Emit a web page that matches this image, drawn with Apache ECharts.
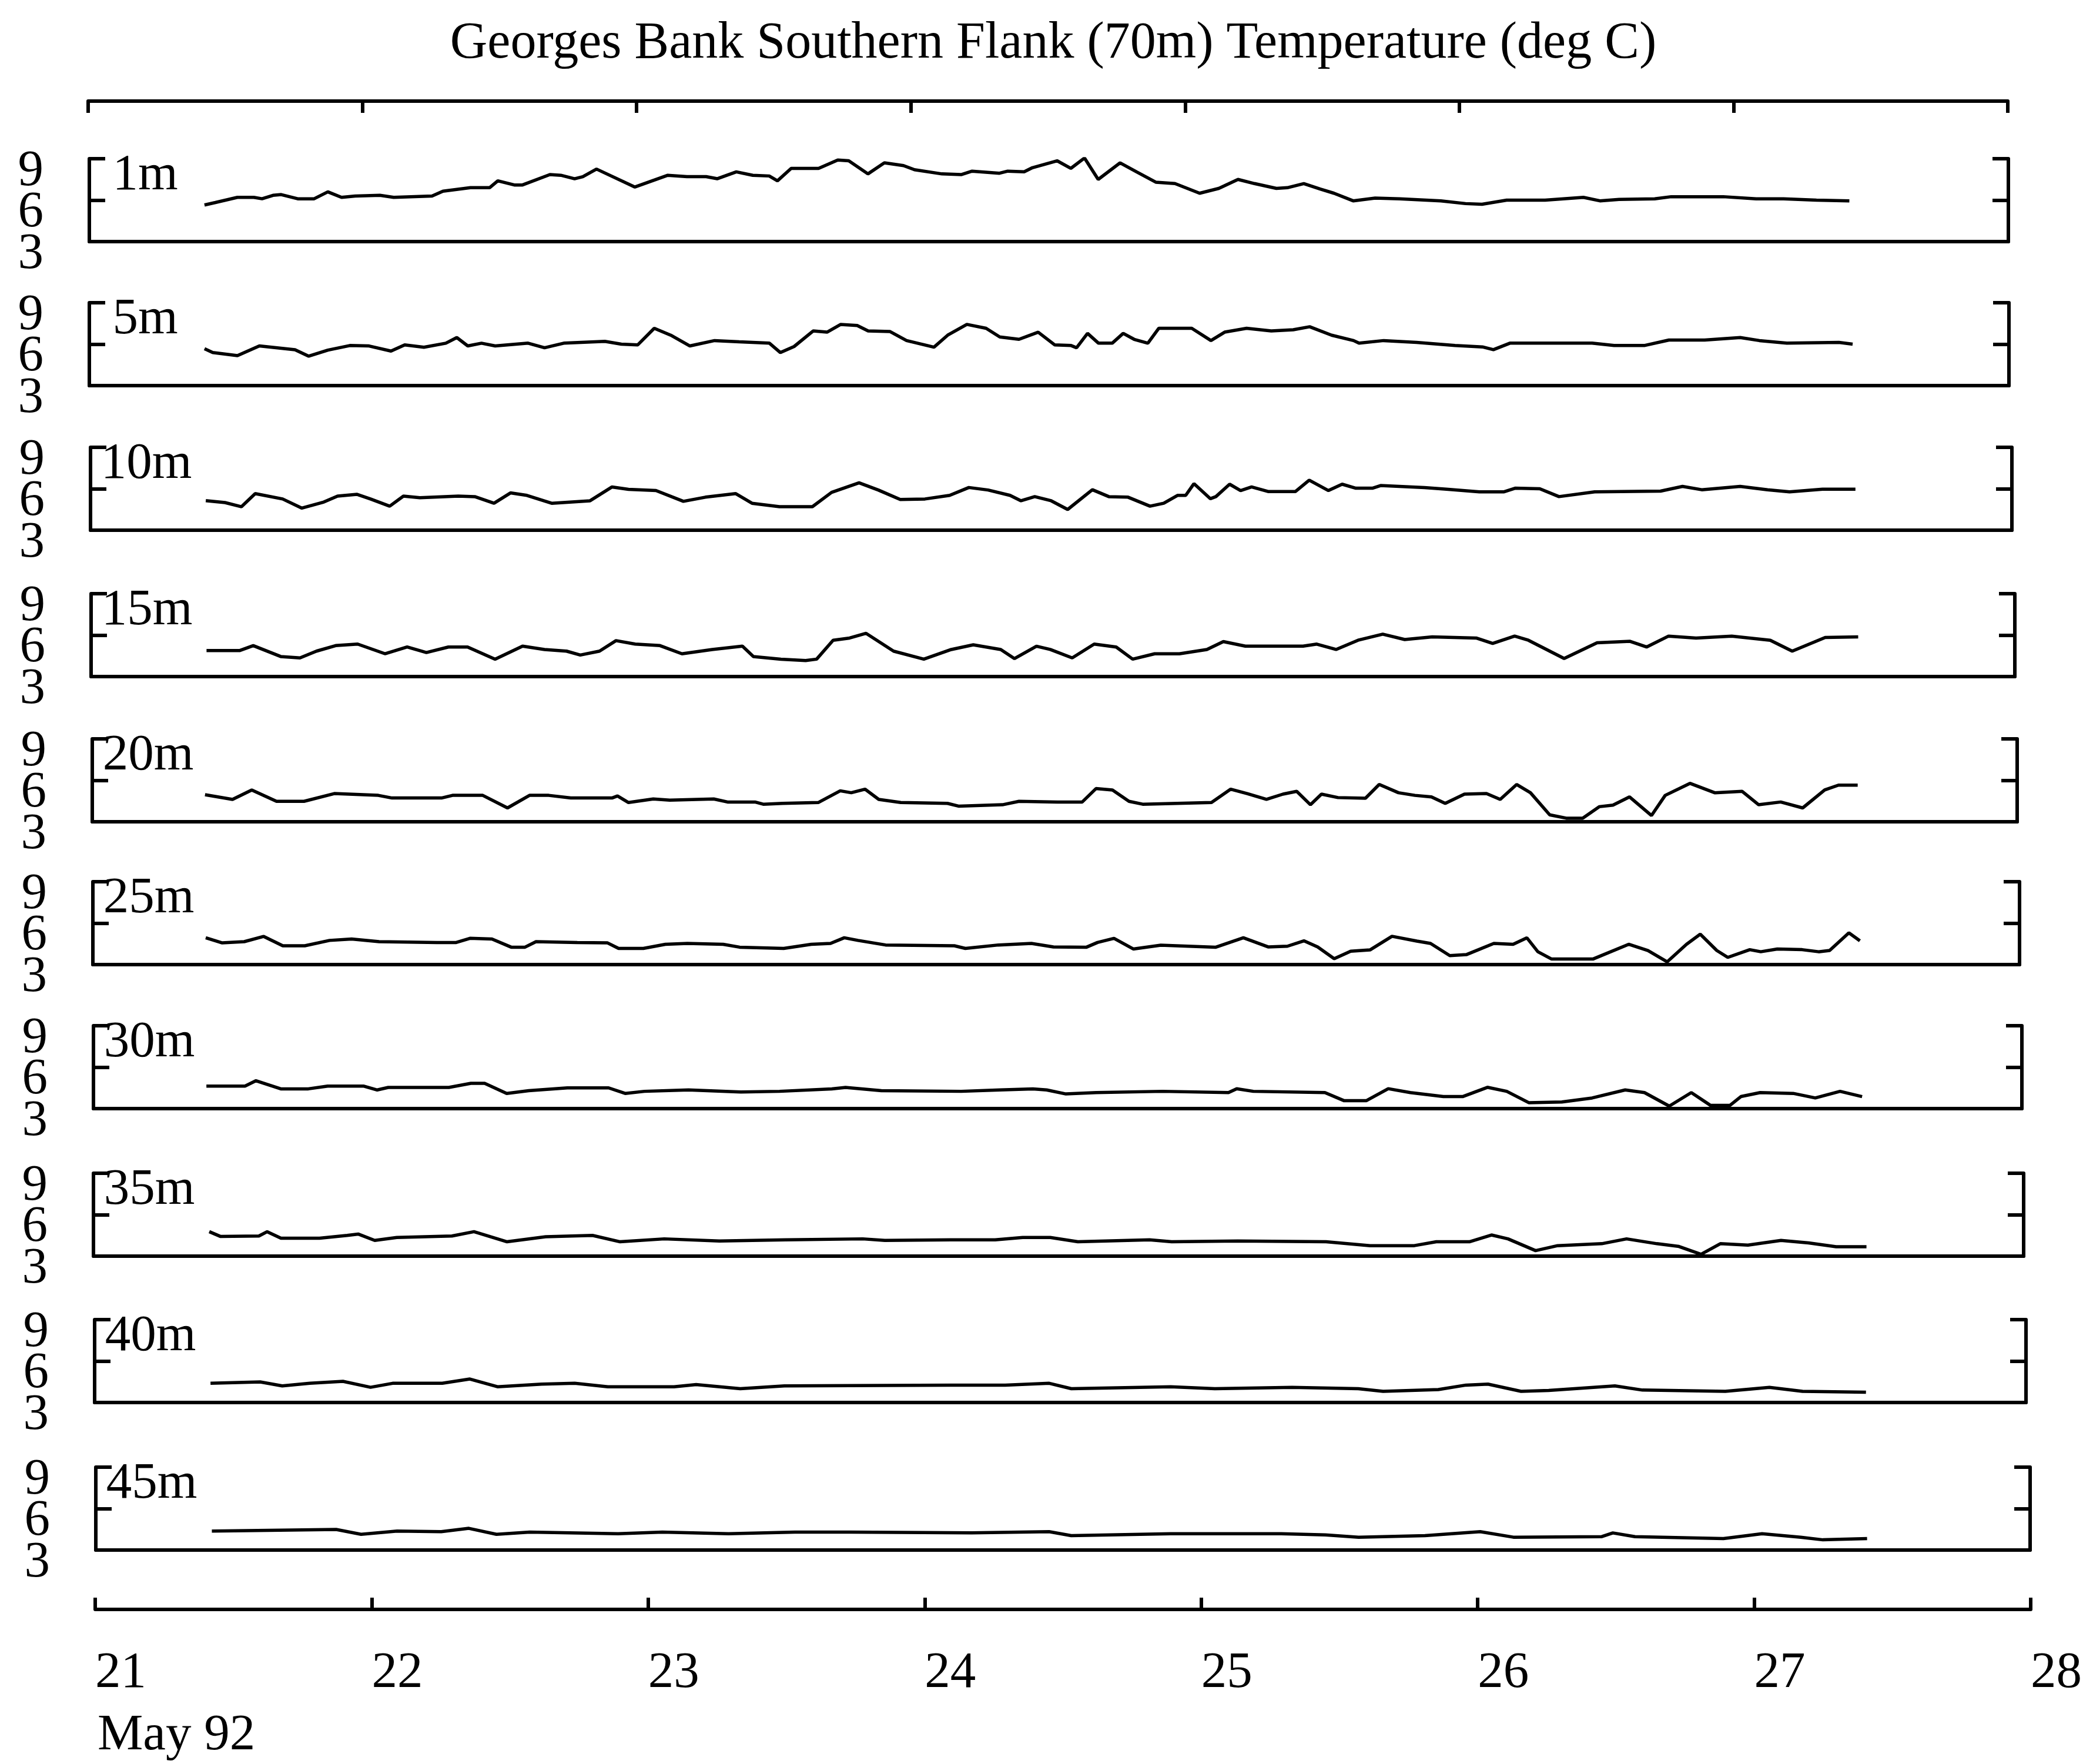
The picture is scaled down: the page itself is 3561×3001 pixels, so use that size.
<!DOCTYPE html>
<html><head><meta charset="utf-8">
<script src="https://cdn.jsdelivr.net/npm/echarts@6/dist/echarts.min.js"></script>
<style>html,body{margin:0;padding:0;background:#fff}#c{width:3561px;height:3001px}</style>
</head><body><div id="c"></div>
<script>
// ---------------- data ----------------
const titleText = 'Georges Bank Southern Flank (70m) Temperature (deg C)';
const depthLabels = ['1m','5m','10m','15m','20m','25m','30m','35m','40m','45m'];
const dayTicks = [21,22,23,24,25,26,27,28];
const tempTicks = [3,6,9];
const monthLabel = 'May 92';

// [day of May 1992, temperature deg C]
const t1m = [[21.42,5.65],[21.46,5.83],[21.54,6.2],[21.60,6.2],[21.63,6.1],[21.67,6.35],[21.70,6.4],[21.76,6.1],[21.82,6.1],[21.87,6.6],[21.92,6.2],[21.97,6.3],[22.06,6.35],[22.11,6.2],[22.25,6.3],[22.29,6.65],[22.39,6.9],[22.46,6.9],[22.49,7.4],[22.55,7.1],[22.58,7.1],[22.68,7.85],[22.72,7.8],[22.77,7.55],[22.80,7.7],[22.85,8.25],[22.99,6.95],[23.11,7.8],[23.18,7.7],[23.25,7.7],[23.29,7.55],[23.36,8.05],[23.42,7.8],[23.48,7.75],[23.51,7.4],[23.56,8.3],[23.66,8.3],[23.73,8.9],[23.77,8.85],[23.84,7.9],[23.90,8.7],[23.97,8.5],[24.01,8.2],[24.11,7.9],[24.18,7.85],[24.22,8.1],[24.32,7.95],[24.35,8.1],[24.41,8.05],[24.44,8.35],[24.53,8.85],[24.58,8.3],[24.63,9.05],[24.68,7.5],[24.76,8.7],[24.82,8.05],[24.89,7.3],[24.96,7.2],[25.05,6.5],[25.12,6.85],[25.19,7.5],[25.25,7.2],[25.33,6.85],[25.37,6.9],[25.43,7.2],[25.49,6.8],[25.54,6.5],[25.61,5.95],[25.69,6.15],[25.78,6.1],[25.93,5.95],[26.02,5.75],[26.08,5.7],[26.17,6.0],[26.31,6.0],[26.45,6.2],[26.51,5.95],[26.58,6.05],[26.71,6.1],[26.77,6.25],[26.96,6.25],[27.08,6.1],[27.18,6.1],[27.30,6.0],[27.42,5.95]];
const t5m = [[21.42,5.67],[21.45,5.39],[21.54,5.17],[21.62,5.87],[21.75,5.6],[21.80,5.13],[21.87,5.57],[21.95,5.9],[22.02,5.87],[22.10,5.5],[22.15,5.95],[22.22,5.78],[22.30,6.07],[22.34,6.48],[22.38,5.87],[22.43,6.07],[22.48,5.87],[22.60,6.07],[22.66,5.74],[22.73,6.07],[22.88,6.2],[22.94,6.0],[23.00,5.95],[23.06,7.15],[23.12,6.65],[23.19,5.87],[23.28,6.26],[23.37,6.17],[23.48,6.07],[23.52,5.39],[23.57,5.83],[23.64,6.96],[23.69,6.87],[23.74,7.43],[23.80,7.35],[23.84,6.96],[23.92,6.91],[23.98,6.26],[24.08,5.78],[24.13,6.65],[24.20,7.43],[24.27,7.15],[24.32,6.52],[24.39,6.35],[24.46,6.87],[24.52,5.95],[24.58,5.9],[24.60,5.74],[24.64,6.78],[24.68,6.07],[24.73,6.07],[24.77,6.78],[24.81,6.35],[24.86,6.07],[24.90,7.15],[25.02,7.15],[25.09,6.26],[25.14,6.87],[25.22,7.15],[25.31,6.96],[25.39,7.04],[25.45,7.26],[25.53,6.65],[25.61,6.26],[25.63,6.07],[25.72,6.26],[25.84,6.13],[25.98,5.9],[26.08,5.8],[26.12,5.6],[26.18,6.07],[26.48,6.07],[26.56,5.9],[26.67,5.9],[26.76,6.3],[26.89,6.3],[27.02,6.48],[27.09,6.26],[27.19,6.07],[27.38,6.13],[27.43,6.0]];
const t10m = [[21.42,5.14],[21.49,5.0],[21.55,4.7],[21.60,5.65],[21.70,5.26],[21.77,4.6],[21.85,5.04],[21.90,5.47],[21.97,5.6],[22.02,5.26],[22.09,4.74],[22.14,5.47],[22.20,5.35],[22.34,5.47],[22.40,5.43],[22.47,4.95],[22.53,5.7],[22.59,5.52],[22.68,4.95],[22.82,5.13],[22.90,6.13],[22.96,5.96],[23.06,5.87],[23.16,5.09],[23.24,5.39],[23.35,5.65],[23.41,4.95],[23.51,4.7],[23.63,4.7],[23.70,5.74],[23.80,6.43],[23.87,5.91],[23.95,5.22],[24.04,5.26],[24.13,5.52],[24.20,6.09],[24.27,5.91],[24.35,5.52],[24.39,5.13],[24.44,5.43],[24.50,5.13],[24.56,4.5],[24.65,5.93],[24.71,5.43],[24.78,5.39],[24.86,4.74],[24.91,4.95],[24.96,5.52],[24.99,5.52],[25.02,6.37],[25.08,5.28],[25.10,5.43],[25.15,6.33],[25.19,5.87],[25.23,6.13],[25.29,5.8],[25.39,5.8],[25.44,6.62],[25.51,5.87],[25.56,6.33],[25.61,6.04],[25.67,6.04],[25.70,6.23],[25.86,6.09],[25.94,5.97],[26.06,5.78],[26.15,5.78],[26.19,6.04],[26.28,6.0],[26.35,5.43],[26.48,5.78],[26.72,5.83],[26.80,6.17],[26.87,5.93],[27.01,6.17],[27.11,5.93],[27.19,5.78],[27.31,5.97],[27.43,5.97]];
const t15m = [[21.42,4.88],[21.54,4.88],[21.59,5.24],[21.69,4.45],[21.76,4.35],[21.82,4.84],[21.89,5.24],[21.97,5.35],[22.07,4.65],[22.15,5.14],[22.22,4.74],[22.30,5.14],[22.37,5.14],[22.47,4.26],[22.57,5.2],[22.65,4.96],[22.73,4.84],[22.78,4.56],[22.85,4.84],[22.91,5.6],[22.98,5.35],[23.07,5.24],[23.15,4.65],[23.26,4.96],[23.37,5.2],[23.41,4.45],[23.51,4.26],[23.60,4.16],[23.64,4.26],[23.70,5.63],[23.76,5.79],[23.82,6.13],[23.92,4.84],[24.03,4.26],[24.13,4.96],[24.21,5.3],[24.31,4.96],[24.36,4.3],[24.44,5.2],[24.49,4.96],[24.57,4.35],[24.65,5.35],[24.73,5.14],[24.79,4.26],[24.87,4.65],[24.96,4.65],[25.06,4.96],[25.12,5.53],[25.20,5.2],[25.41,5.2],[25.46,5.35],[25.53,4.96],[25.61,5.63],[25.70,6.07],[25.78,5.68],[25.88,5.87],[26.04,5.79],[26.10,5.4],[26.18,5.93],[26.23,5.63],[26.36,4.31],[26.48,5.45],[26.60,5.55],[26.66,5.14],[26.74,5.93],[26.84,5.79],[26.97,5.93],[27.11,5.63],[27.19,4.84],[27.31,5.83],[27.43,5.87]];
const t20m = [[21.41,4.96],[21.51,4.62],[21.58,5.3],[21.67,4.48],[21.77,4.48],[21.88,5.04],[22.04,4.91],[22.09,4.72],[22.27,4.72],[22.31,4.91],[22.42,4.91],[22.51,4.0],[22.59,4.91],[22.66,4.91],[22.74,4.72],[22.89,4.72],[22.91,4.87],[22.95,4.39],[23.04,4.65],[23.10,4.56],[23.26,4.65],[23.31,4.43],[23.41,4.43],[23.44,4.27],[23.51,4.33],[23.64,4.39],[23.72,5.24],[23.76,5.1],[23.81,5.36],[23.86,4.62],[23.94,4.39],[24.11,4.33],[24.15,4.13],[24.31,4.23],[24.37,4.48],[24.51,4.43],[24.60,4.43],[24.65,5.4],[24.71,5.3],[24.77,4.48],[24.82,4.27],[25.07,4.39],[25.14,5.36],[25.20,5.04],[25.27,4.62],[25.33,5.0],[25.38,5.2],[25.43,4.23],[25.47,5.0],[25.53,4.75],[25.63,4.7],[25.68,5.7],[25.75,5.1],[25.81,4.91],[25.87,4.8],[25.92,4.33],[25.99,5.0],[26.07,5.04],[26.12,4.62],[26.18,5.7],[26.23,5.1],[26.30,3.5],[26.36,3.26],[26.42,3.26],[26.48,4.09],[26.53,4.2],[26.59,4.8],[26.67,3.45],[26.72,4.91],[26.81,5.78],[26.90,5.1],[27.00,5.2],[27.06,4.23],[27.14,4.43],[27.22,4.0],[27.30,5.3],[27.35,5.65],[27.42,5.65]];
const t25m = [[21.41,4.94],[21.47,4.57],[21.55,4.66],[21.62,5.04],[21.69,4.36],[21.77,4.36],[21.86,4.75],[21.94,4.85],[22.04,4.66],[22.25,4.6],[22.32,4.6],[22.37,4.9],[22.45,4.85],[22.52,4.26],[22.57,4.26],[22.61,4.66],[22.76,4.6],[22.87,4.57],[22.91,4.17],[23.00,4.17],[23.08,4.47],[23.16,4.53],[23.29,4.47],[23.35,4.26],[23.51,4.17],[23.61,4.47],[23.68,4.53],[23.73,4.94],[23.78,4.75],[23.88,4.42],[24.13,4.36],[24.17,4.17],[24.29,4.42],[24.41,4.53],[24.49,4.28],[24.61,4.26],[24.65,4.6],[24.71,4.9],[24.78,4.13],[24.88,4.4],[25.08,4.26],[25.18,4.94],[25.27,4.28],[25.34,4.33],[25.40,4.72],[25.45,4.28],[25.51,3.43],[25.57,3.97],[25.64,4.06],[25.72,5.05],[25.81,4.7],[25.86,4.53],[25.93,3.65],[25.99,3.72],[26.09,4.53],[26.16,4.47],[26.21,4.94],[26.25,3.93],[26.30,3.4],[26.45,3.4],[26.58,4.47],[26.65,4.02],[26.72,3.2],[26.79,4.47],[26.84,5.2],[26.90,4.02],[26.94,3.52],[27.02,4.08],[27.06,3.93],[27.12,4.13],[27.21,4.08],[27.27,3.93],[27.31,4.02],[27.38,5.3],[27.42,4.72]];
const t30m = [[21.41,4.63],[21.55,4.63],[21.59,5.02],[21.68,4.43],[21.78,4.43],[21.85,4.63],[21.98,4.63],[22.03,4.35],[22.07,4.53],[22.29,4.53],[22.37,4.83],[22.42,4.83],[22.50,4.1],[22.58,4.3],[22.72,4.5],[22.87,4.5],[22.93,4.1],[23.00,4.25],[23.16,4.35],[23.35,4.2],[23.49,4.25],[23.68,4.43],[23.73,4.53],[23.86,4.3],[24.15,4.25],[24.29,4.35],[24.41,4.43],[24.46,4.35],[24.53,4.06],[24.64,4.16],[24.88,4.25],[25.12,4.16],[25.15,4.44],[25.21,4.25],[25.47,4.16],[25.54,3.57],[25.62,3.57],[25.70,4.44],[25.78,4.16],[25.90,3.87],[25.97,3.87],[26.06,4.54],[26.13,4.25],[26.21,3.43],[26.33,3.48],[26.44,3.77],[26.56,4.35],[26.63,4.16],[26.72,3.18],[26.80,4.16],[26.87,3.23],[26.94,3.23],[26.98,3.87],[27.05,4.16],[27.17,4.1],[27.25,3.77],[27.34,4.25],[27.42,3.87]];
const t35m = [[21.42,4.77],[21.46,4.43],[21.60,4.46],[21.63,4.77],[21.68,4.3],[21.82,4.3],[21.92,4.5],[21.96,4.6],[22.02,4.14],[22.10,4.35],[22.30,4.46],[22.38,4.77],[22.50,4.04],[22.64,4.4],[22.81,4.5],[22.91,4.04],[23.07,4.25],[23.27,4.1],[23.51,4.18],[23.79,4.25],[23.87,4.14],[24.11,4.18],[24.27,4.18],[24.37,4.35],[24.47,4.35],[24.57,4.04],[24.83,4.18],[24.91,4.04],[25.15,4.1],[25.47,4.04],[25.63,3.76],[25.79,3.76],[25.87,4.04],[25.99,4.04],[26.07,4.53],[26.13,4.25],[26.23,3.4],[26.31,3.76],[26.47,3.9],[26.56,4.25],[26.67,3.9],[26.75,3.7],[26.83,3.13],[26.90,3.9],[27.00,3.8],[27.12,4.14],[27.22,3.96],[27.32,3.68],[27.43,3.68]];
const t40m = [[21.42,4.39],[21.60,4.49],[21.68,4.2],[21.78,4.39],[21.90,4.53],[22.00,4.1],[22.08,4.39],[22.26,4.39],[22.36,4.7],[22.46,4.14],[22.62,4.33],[22.74,4.39],[22.86,4.14],[23.10,4.14],[23.18,4.3],[23.34,4.0],[23.50,4.2],[24.10,4.26],[24.30,4.26],[24.46,4.39],[24.54,4.0],[24.90,4.14],[25.06,4.0],[25.34,4.1],[25.58,4.0],[25.67,3.81],[25.87,3.94],[25.97,4.26],[26.05,4.33],[26.17,3.81],[26.27,3.87],[26.51,4.2],[26.61,3.9],[26.91,3.81],[27.07,4.1],[27.19,3.81],[27.42,3.74]];
const t45m = [[21.42,4.37],[21.87,4.49],[21.96,4.14],[22.09,4.37],[22.25,4.33],[22.35,4.57],[22.45,4.14],[22.57,4.3],[22.89,4.18],[23.05,4.3],[23.29,4.18],[23.53,4.3],[23.73,4.3],[24.17,4.24],[24.45,4.33],[24.53,4.04],[24.89,4.18],[25.29,4.18],[25.45,4.1],[25.57,3.93],[25.81,4.04],[26.01,4.33],[26.13,3.93],[26.45,3.97],[26.49,4.24],[26.57,3.97],[26.89,3.83],[27.03,4.18],[27.17,3.93],[27.25,3.74],[27.41,3.83]];
const temps = [t1m, t5m, t10m, t15m, t20m, t25m, t30m, t35m, t40m, t45m];

// ---------------- layout ----------------
const FONT = '"Liberation Serif", "Times New Roman", Times, serif';
const FS = 87;
const panelBottoms = [411, 656, 902, 1151, 1398, 1641, 1886, 2137, 2386, 2637];
const panelLefts   = [152, 152, 154, 155, 157, 158, 159, 159, 161, 163];
const panelRights  = [3417, 3418, 3423, 3428, 3432, 3436, 3440, 3443, 3447, 3454];
const PH = 141;
const AX = {color: '#000', width: 6};
const tMin = tempTicks[0], tMax = tempTicks[tempTicks.length - 1], tStep = tempTicks[1] - tempTicks[0];
const labelStyle = {fontFamily: FONT, fontSize: FS, color: '#000', lineHeight: 44, verticalAlign: 'top', margin: 78};

const grid = [], xAxis = [], yAxis = [], series = [], graphic = [];
for (let k = 0; k < temps.length; k++) {
  const top = panelBottoms[k] - PH;
  grid.push({left: panelLefts[k], top: top, width: panelRights[k] - panelLefts[k], height: PH});
  xAxis.push({gridIndex: k, type: 'value', min: dayTicks[0], max: dayTicks[dayTicks.length - 1], interval: 1,
    axisLine: {show: true, onZero: false, lineStyle: AX}, axisTick: {show: false}, axisLabel: {show: false}, splitLine: {show: false}});
  const yIdx = yAxis.length;
  // main left axis: line, ticks and end labels (3, 9)
  yAxis.push({gridIndex: k, type: 'value', position: 'left', min: tMin, max: tMax, interval: tMax - tMin,
    axisLine: {show: true, onZero: false, lineStyle: AX},
    axisTick: {show: true, inside: true, length: 27, lineStyle: AX},
    axisLabel: Object.assign({show: true, showMinLabel: true, showMaxLabel: true}, labelStyle), splitLine: {show: false}});
  // second left axis: middle tick and label (6)
  yAxis.push({gridIndex: k, type: 'value', position: 'left', min: tMin, max: tMax, interval: tStep,
    axisLine: {show: false}, axisTick: {show: true, inside: true, length: 27, lineStyle: AX},
    axisLabel: Object.assign({show: true, showMinLabel: false, showMaxLabel: false}, labelStyle), splitLine: {show: false}});
  // right frame axis
  yAxis.push({gridIndex: k, type: 'value', position: 'right', min: tMin, max: tMax, interval: tStep,
    axisLine: {show: true, onZero: false, lineStyle: AX},
    axisTick: {show: true, inside: true, length: 27, lineStyle: AX}, axisLabel: {show: false}, splitLine: {show: false}});
  series.push({type: 'line', xAxisIndex: k, yAxisIndex: yIdx, data: temps[k], showSymbol: false, symbol: 'none',
    lineStyle: {color: '#000', width: 5.5}, silent: true, animation: false});
  graphic.push({type: 'text', x: panelLefts[k] + 95, y: top + 29,
    style: {text: depthLabels[k], font: FS + 'px ' + FONT, fill: '#000', align: 'center', textAlign: 'center', verticalAlign: 'middle', textVerticalAlign: 'middle'}});
}
// top frame line
const gTop = grid.length;
grid.push({left: 150, top: 172, width: 3266, height: 60});
xAxis.push({gridIndex: gTop, type: 'value', position: 'top', min: 21, max: 28, interval: 1,
  axisLine: {show: true, onZero: false, lineStyle: AX}, axisTick: {show: true, inside: true, length: 20, lineStyle: AX},
  axisLabel: {show: false}, splitLine: {show: false}});
yAxis.push({gridIndex: gTop, type: 'value', show: false});
// bottom time axis
const gBot = grid.length;
grid.push({left: 162, top: 2688, width: 3293, height: 50});
xAxis.push({gridIndex: gBot, type: 'value', position: 'bottom', min: 21, max: 28, interval: 1,
  axisLine: {show: true, onZero: false, lineStyle: AX}, axisTick: {show: true, inside: true, length: 20, lineStyle: AX},
  axisLabel: {show: true, showMinLabel: true, showMaxLabel: true, margin: 109, align: 'left', verticalAlign: 'middle',
    fontFamily: FONT, fontSize: FS, color: '#000', formatter: v => String(v)}, splitLine: {show: false}});
yAxis.push({gridIndex: gBot, type: 'value', show: false});

graphic.push({type: 'text', x: 1792, y: 75,
  style: {text: titleText, font: '88px ' + FONT, fill: '#000', align: 'center', textAlign: 'center', verticalAlign: 'middle', textVerticalAlign: 'middle'}});
graphic.push({type: 'text', x: 166, y: 2953,
  style: {text: monthLabel, font: FS + 'px ' + FONT, fill: '#000', align: 'left', textAlign: 'left', verticalAlign: 'middle', textVerticalAlign: 'middle'}});

const chart = echarts.init(document.getElementById('c'), null, {renderer: 'canvas', width: 3561, height: 3001});
chart.setOption({backgroundColor: '#fff', animation: false, grid, xAxis, yAxis, series, graphic});
</script>
</body></html>
